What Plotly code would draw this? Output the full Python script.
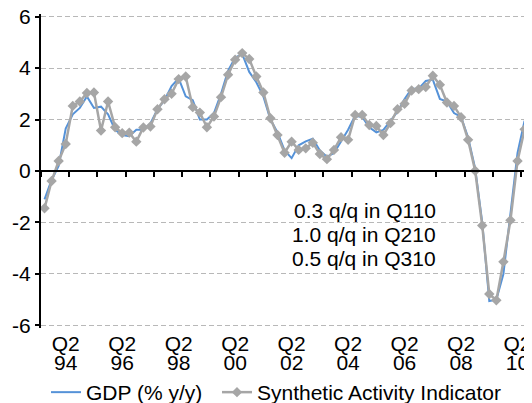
import pandas as pd
import plotly.graph_objects as go

# quarterly categories, Q3 1993 .. Q4 2010
quarters = [str(p) for p in pd.period_range("1993Q3", "2010Q4", freq="Q")]

# GDP, % y/y (ends one quarter before the indicator)
gdp = [
    -1.10, -0.35, 0.20, 1.65, 2.20, 2.45, 2.90, 2.45, 2.50, 2.20,
    1.60, 1.40, 1.35, 1.60, 1.60, 1.85, 2.40, 2.75, 3.30, 3.60,
    2.90, 2.75, 2.00, 2.00, 2.25, 3.00, 3.90, 4.40, 4.55, 3.85,
    3.45, 2.90, 2.00, 1.50, 0.80, 0.50, 1.00, 1.15, 1.25, 0.80,
    0.55, 0.70, 1.15, 1.60, 2.15, 2.10, 1.70, 1.50, 1.60, 1.95,
    2.30, 2.80, 3.20, 3.20, 3.50, 3.55, 2.80, 2.70, 2.25, 2.10,
    1.30, 0.10, -2.00, -5.05, -5.00, -4.00, -1.60, 0.70, 1.95,
]

# Synthetic Activity Indicator
sai = [
    -1.45, -0.39, 0.39, 1.05, 2.53, 2.70, 3.03, 3.05, 1.57, 2.70,
    1.70, 1.47, 1.49, 1.14, 1.69, 1.73, 2.40, 2.79, 3.00, 3.57,
    3.67, 2.48, 2.27, 1.70, 2.12, 2.87, 3.74, 4.32, 4.58, 4.35,
    3.67, 3.05, 2.05, 1.40, 0.71, 1.14, 0.82, 0.88, 1.10, 0.66,
    0.46, 0.82, 1.31, 1.21, 2.18, 2.18, 1.79, 1.75, 1.40, 1.86,
    2.40, 2.61, 3.13, 3.18, 3.26, 3.70, 3.35, 2.66, 2.53, 2.09,
    1.21, 0.01, -2.12, -4.78, -5.02, -3.53, -1.91, 0.39, 1.62, 1.92,
]

y_ticks = [-6, -4, -2, 0, 2, 4, 6]
note_lines = ["0.3 q/q in Q110", "1.0 q/q in Q210", "0.5 q/q in Q310"]

BLUE = "#5592d8"
GREY = "#a6a6a6"
FONT = "Liberation Sans, Arial, sans-serif"
FS = 21

x_pos = list(range(len(quarters)))
# labels on every second year's Q2, tick marks at year boundaries (Q2|Q3)
label_pos = [i for i, q in enumerate(quarters) if q.endswith("Q2") and int(q[:4]) % 2 == 0]
label_top = [quarters[i][4:] for i in label_pos]
label_bottom = [quarters[i][2:4] for i in label_pos]
boundary_pos = [i - 0.5 for i, q in enumerate(quarters) if q.endswith("Q3")]

x_range = [-0.5, 69.05]
# a bit beyond +-6 so plotly keeps the edge gridlines
y_range = [-6.1, 6.1]

fig = go.Figure()
fig.add_trace(go.Scatter(
    x=x_pos[:len(gdp)], y=gdp, name="GDP (% y/y)", mode="lines",
    line=dict(color=BLUE, width=2), legend="legend",
))
fig.add_trace(go.Scatter(
    x=x_pos, y=sai, name="Synthetic Activity Indicator", mode="lines+markers",
    line=dict(color=GREY, width=2.5),
    marker=dict(symbol="diamond", size=8, color=GREY),
    legend="legend2", cliponaxis=False,
))
# empty traces so the helper axes get drawn
fig.add_trace(go.Scatter(x=[x_pos[0]], y=[None], xaxis="x2", showlegend=False, hoverinfo="skip"))
fig.add_trace(go.Scatter(x=[x_pos[0]], y=[None], xaxis="x3", showlegend=False, hoverinfo="skip"))

for k, line in enumerate(note_lines):
    fig.add_annotation(
        text=line, xref="paper", x=0.8085, xanchor="right",
        yref="y", y=-1.55 - 0.92 * k, yanchor="middle",
        showarrow=False, font=dict(family=FONT, size=FS, color="black"),
    )

tick_font = dict(family=FONT, size=FS, color="black")

# the page body keeps its 8px default margin, so the figure is 8px smaller
fig.update_layout(
    width=524, height=395,
    margin=dict(l=33, r=0, t=6, b=75, autoexpand=False),
    paper_bgcolor="white", plot_bgcolor="white",
    font=dict(family=FONT, size=FS, color="black"),
    xaxis=dict(
        range=x_range, showgrid=False, zeroline=False, showline=False,
        tickmode="array", tickvals=label_pos, ticktext=label_top,
        ticks="", ticklabelstandoff=1, tickfont=tick_font, automargin=False,
        ticklabeloverflow="allow",
    ),
    xaxis2=dict(
        range=x_range, overlaying="x", anchor="free", position=0.5,
        showgrid=False, zeroline=False,
        showline=True, linecolor="black", linewidth=2,
        tickmode="array", tickvals=boundary_pos, ticks="outside",
        ticklen=5, tickwidth=1.5, tickcolor="black",
        showticklabels=False, automargin=False,
    ),
    xaxis3=dict(
        range=x_range, overlaying="x", anchor="y", side="bottom",
        showgrid=False, zeroline=False, showline=False,
        tickmode="array", tickvals=label_pos, ticktext=label_bottom,
        ticks="", ticklabelstandoff=20, tickfont=tick_font, automargin=False,
        ticklabeloverflow="allow",
    ),
    yaxis=dict(
        range=y_range, tickmode="array", tickvals=y_ticks,
        ticktext=[str(v) for v in y_ticks],
        showgrid=True, gridcolor="#b8b8b8", gridwidth=1, griddash="5px,3px",
        zeroline=False, showline=True, linecolor="black", linewidth=2,
        ticks="outside", ticklen=4, tickwidth=1.5, tickcolor="black",
        ticklabelstandoff=0, tickfont=tick_font, automargin=False,
        ticklabeloverflow="allow",
    ),
    legend=dict(
        orientation="h", x=0.0102, xanchor="left", y=-0.2054, yanchor="middle",
        bgcolor="rgba(0,0,0,0)", font=dict(family=FONT, size=FS, color="black"),
    ),
    legend2=dict(
        orientation="h", x=0.3584, xanchor="left", y=-0.2054, yanchor="middle",
        bgcolor="rgba(0,0,0,0)", font=dict(family=FONT, size=FS, color="black"),
    ),
    showlegend=True,
)

fig.write_html("out.html")
